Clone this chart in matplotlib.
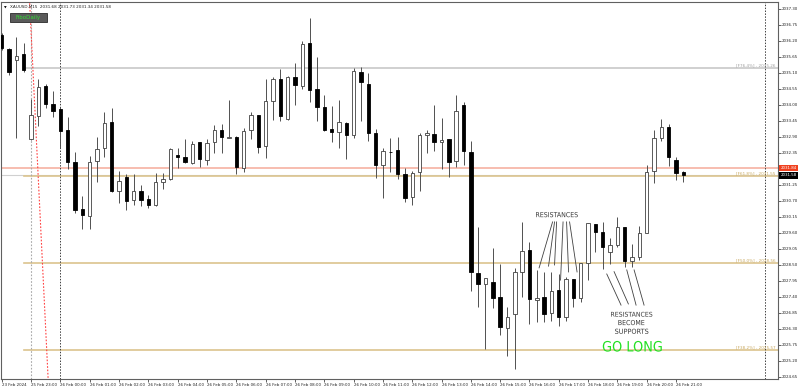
import matplotlib.pyplot as plt
import numpy as np
from matplotlib.patches import Rectangle, PathPatch
from matplotlib.textpath import TextPath
from matplotlib.font_manager import FontProperties
from matplotlib.transforms import Affine2D

# XAUUSD M15 candles, index 0 = 26 Feb 00:00
idx = list(range(-8, 86))
opens = [2036.40, 2035.91, 2035.55, 2035.74, 2032.82, 2033.62, 2034.65, 2034.03,
         2033.85, 2033.13, 2032.04, 2030.42, 2030.19, 2032.07, 2032.53, 2033.40,
         2031.04, 2031.51, 2030.72, 2031.05, 2030.76, 2030.55, 2031.35, 2031.44,
         2032.28, 2032.21, 2032.01, 2032.72, 2032.12, 2032.73, 2033.13, 2032.87,
         2032.91, 2031.84, 2033.13, 2033.64, 2032.60, 2034.12, 2034.90, 2033.51,
         2034.95, 2034.66, 2036.14, 2034.54, 2033.93, 2033.16, 2033.06, 2033.39,
         2032.98, 2035.13, 2034.72, 2033.03, 2031.95, 2032.38, 2032.45, 2031.64,
         2030.85, 2031.68, 2032.96, 2033.01, 2032.72, 2032.82, 2032.07, 2034.00,
         2032.39, 2028.23, 2027.86, 2027.93, 2027.39, 2026.32, 2026.82, 2028.27,
         2029.01, 2027.30, 2027.39, 2026.84, 2027.63, 2026.72, 2028.01, 2027.38,
         2028.58, 2029.91, 2029.64, 2028.94, 2029.18, 2029.82, 2028.65, 2028.78,
         2029.61, 2031.73, 2032.85, 2033.23, 2032.10, 2031.68]
highs = [2036.47, 2035.96, 2036.34, 2036.12, 2034.20, 2034.91, 2034.72, 2034.49,
         2033.94, 2033.60, 2032.39, 2030.87, 2032.24, 2032.89, 2033.77, 2033.90,
         2031.74, 2031.63, 2031.63, 2031.25, 2030.89, 2031.65, 2031.65, 2032.52,
         2032.51, 2032.82, 2032.75, 2032.74, 2032.82, 2033.31, 2033.34, 2034.17,
         2032.93, 2033.20, 2033.75, 2033.65, 2034.91, 2034.97, 2035.24, 2034.98,
         2035.45, 2036.20, 2036.99, 2035.64, 2034.33, 2033.95, 2034.17, 2033.41,
         2035.26, 2035.29, 2035.09, 2033.17, 2032.52, 2032.85, 2032.89, 2031.84,
         2031.73, 2033.03, 2033.14, 2034.00, 2033.54, 2032.83, 2034.34, 2034.11,
         2032.77, 2029.82, 2028.06, 2029.07, 2028.53, 2027.07, 2028.39, 2029.99,
         2029.30, 2028.33, 2028.25, 2028.27, 2028.19, 2028.10, 2028.01, 2028.58,
         2029.95, 2029.91, 2029.99, 2029.42, 2030.16, 2029.82, 2029.22, 2029.84,
         2031.93, 2033.14, 2033.52, 2033.34, 2032.20, 2031.73]
lows = [2035.89, 2035.03, 2032.87, 2035.14, 2032.79, 2033.28, 2033.88, 2033.57,
        2032.53, 2031.80, 2030.28, 2029.74, 2029.74, 2031.36, 2032.20, 2031.02,
        2030.62, 2030.38, 2030.56, 2030.54, 2030.45, 2030.54, 2031.10, 2031.42,
        2031.84, 2032.01, 2031.96, 2031.86, 2031.94, 2032.36, 2032.34, 2032.85,
        2031.64, 2031.68, 2032.82, 2032.36, 2032.17, 2033.48, 2033.44, 2033.50,
        2033.99, 2034.54, 2034.10, 2033.45, 2033.10, 2032.74, 2032.51, 2032.13,
        2032.85, 2033.45, 2032.76, 2031.48, 2030.79, 2031.71, 2031.45, 2030.65,
        2030.56, 2031.04, 2032.36, 2032.42, 2031.80, 2031.53, 2031.86, 2031.94,
        2027.62, 2027.07, 2025.60, 2027.03, 2026.09, 2025.37, 2024.92, 2027.41,
        2026.47, 2026.55, 2026.55, 2026.57, 2026.40, 2026.56, 2027.07, 2027.24,
        2027.98, 2028.96, 2028.35, 2028.53, 2029.13, 2028.42, 2028.42, 2028.67,
        2029.60, 2031.33, 2032.76, 2031.90, 2031.42, 2031.34]
closes = [2035.96, 2035.14, 2035.69, 2035.21, 2033.65, 2034.61, 2034.02, 2033.81,
          2033.09, 2032.05, 2030.39, 2030.21, 2032.05, 2032.47, 2033.39, 2031.05,
          2031.39, 2030.70, 2031.04, 2030.74, 2030.55, 2031.35, 2031.46, 2032.49,
          2032.20, 2032.05, 2032.66, 2032.14, 2032.70, 2033.13, 2032.90, 2032.88,
          2031.88, 2033.11, 2033.64, 2032.55, 2034.12, 2034.91, 2033.62, 2034.95,
          2034.67, 2036.09, 2034.50, 2033.92, 2033.14, 2033.07, 2033.40, 2032.96,
          2035.17, 2034.79, 2033.03, 2031.94, 2032.41, 2032.37, 2031.62, 2030.79,
          2031.65, 2032.96, 2033.05, 2032.74, 2032.81, 2032.05, 2033.81, 2032.42,
          2028.27, 2027.86, 2028.04, 2027.38, 2026.37, 2026.71, 2028.27, 2028.99,
          2027.32, 2027.38, 2026.82, 2027.62, 2026.72, 2028.03, 2027.37, 2028.58,
          2029.93, 2029.64, 2029.11, 2029.18, 2029.79, 2028.65, 2028.78, 2029.61,
          2031.71, 2032.85, 2033.23, 2032.22, 2031.65, 2031.58]

bid = 2031.58
ask = 2031.84
fib_levels = [2035.26, 2031.55, 2028.56, 2025.57]
fib_names = ["[F76.4%] - 2035.26", "[F61.8%] - 2031.55", "[F50.0%] - 2028.56", "[F38.2%] - 2025.57"]
fib_colors = ["#c8c8c8", "#dcc48e", "#dcc48e", "#dcc48e"]

price_ticks = [round(2024.65 + 0.55 * i, 2) for i in range(24)]
time_ticks = list(range(-8, 85, 4))
time_labels = ["23 Feb 2024", "25 Feb 23:00"] + ["26 Feb %02d:00" % h for h in range(22)]

fig = plt.figure(figsize=(8, 3.89), dpi=100)
ax = fig.add_axes([1 / 800, 10 / 389, 777 / 800, 377 / 389])
ax.set_xlim(-8.09, 97.9)
ax.set_ylim(2024.58, 2037.54)


def narrow_text(s, x0, x1, y0, y1, color):
    # text squeezed into a box given in data units (narrow font look)
    tp = TextPath((0, 0), s, size=1, prop=FontProperties(family="DejaVu Sans"))
    bb = tp.get_extents()
    tr = Affine2D().translate(-bb.x0, -bb.y0).scale((x1 - x0) / bb.width, (y1 - y0) / bb.height)
    tr = tr.translate(x0, y0) + ax.transData
    ax.add_patch(PathPatch(tp, transform=tr, facecolor=color, edgecolor="none", zorder=5))


# candles
for x, o, h, l, c in zip(idx, opens, highs, lows, closes):
    ax.vlines(x, l, h, color="#505050", lw=0.7, zorder=2)
    bull = c >= o
    ax.add_patch(Rectangle((x - 0.23, min(o, c)), 0.46, max(abs(c - o), 0.02),
                           facecolor="white" if bull else "black",
                           edgecolor="#404040" if bull else "black", lw=0.6, zorder=3))

# price lines
ax.axhline(bid, color="#d0d0d0", lw=0.8, zorder=1)
ax.axhline(ask, color="#f6b2a2", lw=1.2, zorder=1)
for lvl, col in zip(fib_levels, fib_colors):
    ax.plot([-5, 97.9], [lvl, lvl], color=col, lw=1.2, zorder=1)
for lvl, name, col in zip(fib_levels, fib_names, fib_colors):
    c2 = "#a0a0a0" if col == "#c8c8c8" else "#c8a860"
    ax.text(97.6, lvl + 0.02, name, fontsize=3, color=c2, ha="right", va="bottom", zorder=4)

# separators
ax.axvline(-4, color="#a8a8a8", lw=0.8, ls=(0, (1.5, 1.5)), zorder=1)
ax.axvline(0, color="#404040", lw=0.7, ls=(0, (1.5, 1.5)), zorder=1)
ax.axvline(96.1, color="#404040", lw=0.7, ls=(0, (1.5, 1.5)), zorder=1)
ax.plot([-4.2, -1.66], [2037.61, 2024.58], color="#ff4040", lw=0.8, ls=(0, (1.5, 1.5)), zorder=1)

# annotations
res_x = [(67.15, 65.31), (67.42, 66.60), (67.70, 67.42), (68.58, 68.24), (69.06, 69.33), (69.47, 70.49)]
res_y = [(2029.98, 2028.40), (2029.98, 2028.46), (2029.98, 2028.50), (2029.98, 2027.98), (2029.98, 2028.26), (2029.98, 2028.26)]
for xs, ys in zip(res_x, res_y):
    ax.plot(xs, ys, color="#404040", lw=0.6, zorder=4)
sup_x = [(74.54, 76.49), (75.54, 77.49), (77.27, 78.54), (78.27, 79.63)]
sup_y = [(2028.19, 2027.12), (2028.27, 2027.16), (2028.33, 2027.12), (2028.33, 2027.12)]
for xs, ys in zip(sup_x, sup_y):
    ax.plot(xs, ys, color="#404040", lw=0.6, zorder=4)

narrow_text("RESISTANCES", 64.90, 70.59, 2030.14, 2030.32, "#3a3a3a")
narrow_text("RESISTANCES", 75.13, 80.76, 2026.72, 2026.89, "#3a3a3a")
narrow_text("BECOME", 76.13, 79.67, 2026.43, 2026.61, "#3a3a3a")
narrow_text("SUPPORTS", 75.67, 80.22, 2026.13, 2026.31, "#3a3a3a")
narrow_text("GO LONG", 74.0, 82.05, 2025.52, 2025.89, "#22e022")

# header
ax.text(0.004, 0.99, "\u25bc", transform=ax.transAxes, fontsize=2.5, va="top", ha="left")
ax.text(0.011, 0.993, "XAUUSD,M15  2031.68 2031.73 2031.34 2031.58", transform=ax.transAxes,
        fontsize=3.0, va="top", ha="left", color="#222222")
ax.add_patch(Rectangle((0.0116, 0.947), 0.0476, 0.025, transform=ax.transAxes,
                       facecolor="#5a5a5a", edgecolor="#2a2a2a", lw=0.6, zorder=5))
ax.text(0.0354, 0.9595, "FiboDaily", transform=ax.transAxes, fontsize=4.0, va="center",
        ha="center", color="#33dd33", zorder=6)

# axes
ax.yaxis.tick_right()
ax.set_yticks(price_ticks)
ax.set_yticklabels(["" if abs(p - 2031.80) < 0.01 else "%.2f" % p for p in price_ticks])
ax.set_xticks(time_ticks)
ax.set_xticklabels(time_labels)
for lab in ax.get_xticklabels():
    lab.set_horizontalalignment("left")
ax.tick_params(axis="both", labelsize=2.9, length=2, width=0.5, pad=1, colors="#222222")
for s in ax.spines.values():
    s.set_color("#606060")
    s.set_linewidth(0.8)

ax.text(1.003, ask, "2031.84", transform=ax.get_yaxis_transform(), fontsize=2.9, color="white",
        va="center", ha="left", zorder=6, clip_on=False,
        bbox=dict(boxstyle="square,pad=0.3", facecolor="#f0401e", edgecolor="none"))
ax.text(1.003, bid, "2031.58", transform=ax.get_yaxis_transform(), fontsize=2.9, color="white",
        va="center", ha="left", zorder=6, clip_on=False,
        bbox=dict(boxstyle="square,pad=0.3", facecolor="black", edgecolor="none"))

fig.savefig("out.png", dpi=100)
